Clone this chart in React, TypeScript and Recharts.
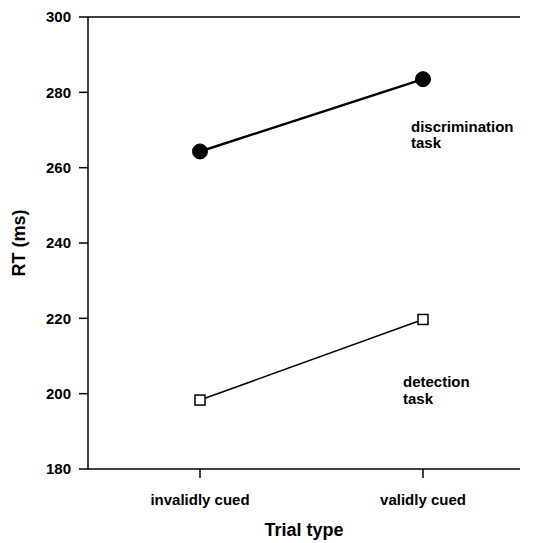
import { LineChart, Line, XAxis, YAxis, ReferenceLine, LabelList } from 'recharts';

const trialTypes = ['invalidly cued', 'validly cued'];
const discrimination = [264.3, 283.5];
const detection = [198.3, 219.7];
const yTicks = [180, 200, 220, 240, 260, 280, 300];

const data = trialTypes.map((t, i) => ({
  trial: t,
  discrimination: discrimination[i],
  detection: detection[i],
}));

const FONT = '"Liberation Sans", Arial, sans-serif';

const SquareDot = (props: any) => {
  const { cx, cy } = props;
  if (cx == null || cy == null) return null;
  return <rect x={cx - 5} y={cy - 5} width={10} height={10} fill="#fff" stroke="#000" strokeWidth={1.5} />;
};

const taskLabel = (lines: string[], dx: number, dy: number, gap: number) => (props: any) => {
  const { x, y, index } = props;
  if (index !== 1) return null;
  return (
    <text x={x + dx} y={y + dy} fontFamily={FONT} fontSize={15} fontWeight="bold" fill="#000">
      <tspan x={x + dx}>{lines[0]}</tspan>
      <tspan x={x + dx} dy={gap}>{lines[1]}</tspan>
    </text>
  );
};

export default function App() {
  return (
    <div style={{ position: 'absolute', left: 0, top: 0, width: 540, height: 543, background: '#fff' }}>
      <LineChart width={540} height={543} data={data} margin={{ top: 17, right: 20, left: 0, bottom: 0 }}>
        <ReferenceLine y={300} stroke="#000" strokeWidth={1.5} />
        <XAxis
          dataKey="trial"
          height={74}
          padding={{ left: 112, right: 97 }}
          stroke="#000"
          strokeWidth={1.5}
          tickSize={9}
          tickMargin={16}
          tick={{ fill: '#000', fontSize: 15, fontWeight: 'bold', fontFamily: FONT }}
          label={{
            value: 'Trial type',
            position: 'insideBottom',
            offset: 7,
            style: { fill: '#000', fontSize: 18, fontWeight: 'bold', fontFamily: FONT },
          }}
        />
        <YAxis
          width={88}
          domain={[180, 300]}
          ticks={yTicks}
          stroke="#000"
          strokeWidth={1.5}
          tickSize={9}
          tickMargin={8}
          tick={{ fill: '#000', fontSize: 15, fontWeight: 'bold', fontFamily: FONT }}
          label={{
            value: 'RT (ms)',
            angle: -90,
            position: 'insideLeft',
            offset: 19,
            style: { textAnchor: 'middle', fill: '#000', fontSize: 18, fontWeight: 'bold', fontFamily: FONT },
          }}
        />
        <Line
          dataKey="discrimination"
          type="linear"
          stroke="#000"
          strokeWidth={2.5}
          dot={{ r: 7.5, fill: '#000', stroke: '#000', strokeWidth: 1 }}
          isAnimationActive={false}
        >
          <LabelList dataKey="discrimination" content={taskLabel(['discrimination', 'task'], -12, 53, 16)} />
        </Line>
        <Line
          dataKey="detection"
          type="linear"
          stroke="#000"
          strokeWidth={1.5}
          dot={<SquareDot />}
          isAnimationActive={false}
        >
          <LabelList dataKey="detection" content={taskLabel(['detection', 'task'], -20, 68, 17)} />
        </Line>
      </LineChart>
    </div>
  );
}
